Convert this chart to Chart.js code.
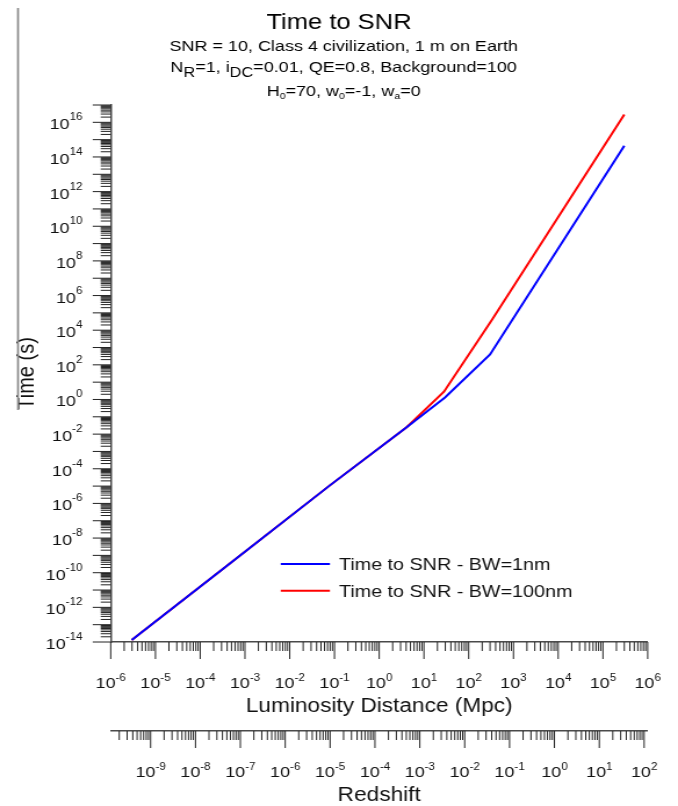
<!DOCTYPE html>
<html>
<head>
<meta charset="utf-8">
<title>Time to SNR</title>
<script src="https://cdn.jsdelivr.net/npm/chart.js@4.4.1/dist/chart.umd.min.js"></script>
<style>
  html, body { margin: 0; padding: 0; background: #ffffff; overflow: hidden; }
  /* the plot is laid out 584px wide and shown widened to the 678px page */
  #frame { position: absolute; left: 0; top: 0; width: 584px; height: 806px;
           transform-origin: 0 0; transform: scaleX(1.16096); }
</style>
</head>
<body>
<div id="frame"><canvas id="chart"></canvas></div>
<script>
// Luminosity distance (Mpc) and time to reach SNR = 10 (s), 1 nm bandwidth
const distance1nm = [2.95e-6, 4.6e-4, 0.079, 4.1, 29.5, 300, 3.0e5];
const time1nm     = [1.3e-14, 3.4e-10, 1.1e-5, 0.025, 1.3, 400, 4.5e14];

// Same quantities for the 100 nm bandwidth
const distance100nm = [2.95e-6, 4.6e-4, 0.079, 4.1, 28, 340, 3.0e5];
const time100nm     = [1.3e-14, 3.4e-10, 1.1e-5, 0.025, 2.8, 4.4e4, 2.8e16];

const seriesLabels = ['Time to SNR - BW=1nm', 'Time to SNR - BW=100nm'];
const seriesColors = ['#0000ff', '#ff0000'];

// Axis ranges
const distanceRange = [1e-6, 1e6];
const timeRange = [1e-14, 1e17];
const redshiftRange = [1.29e-10, 120];

// Powers of ten that carry a label
const distanceExponents = [-6, -5, -4, -3, -2, -1, 0, 1, 2, 3, 4, 5, 6];
const timeExponents = [-14, -12, -10, -8, -6, -4, -2, 0, 2, 4, 6, 8, 10, 12, 14, 16];
const redshiftExponents = [-9, -8, -7, -6, -5, -4, -3, -2, -1, 0, 1, 2];

const FAMILY = '"Liberation Sans", Arial, Helvetica, sans-serif';
const INK = '#111111';
const AXIS = '#4a4a4a';
const TICK = '#222222';

Chart.defaults.font.family = FAMILY;
Chart.defaults.color = INK;

function px(size) { return size + 'px ' + FAMILY; }

function points(xs, ys) { return xs.map((x, i) => ({ x: x, y: ys[i] })); }

// "10" followed by a raised exponent
function drawPower(ctx, exp, x, baseline, align, rise) {
  const base = '10';
  const sup = String(exp);
  ctx.font = px(15.5);
  const wb = ctx.measureText(base).width;
  ctx.font = px(10);
  const ws = ctx.measureText(sup).width;
  const total = wb + ws;
  const left = align === 'right' ? x - total : x - total / 2;
  ctx.textAlign = 'left';
  ctx.textBaseline = 'alphabetic';
  ctx.fillStyle = INK;
  ctx.font = px(15.5);
  ctx.fillText(base, left, baseline);
  ctx.font = px(10);
  ctx.fillText(sup, left + wb, baseline - rise);
}

// every 1..9 x 10^k value inside the scale range
function eachLogTick(scale, cb) {
  const lo = Math.floor(Math.log10(scale.min));
  const hi = Math.ceil(Math.log10(scale.max));
  for (let k = lo; k <= hi; k++) {
    for (let m = 1; m <= 9; m++) {
      const v = m * Math.pow(10, k);
      if (v < scale.min * (1 - 1e-9) || v > scale.max * (1 + 1e-9)) continue;
      cb(scale.getPixelForValue(v), m === 1);
    }
  }
}

// text line built from runs of [text, size, drop]
function drawRuns(ctx, runs, cx, baseline) {
  let total = 0;
  runs.forEach(r => { ctx.font = px(r[1]); total += ctx.measureText(r[0]).width; });
  let x = cx - total / 2;
  ctx.textAlign = 'left';
  ctx.textBaseline = 'alphabetic';
  runs.forEach(r => {
    ctx.font = px(r[1]);
    ctx.fillText(r[0], x, baseline + r[2]);
    x += ctx.measureText(r[0]).width;
  });
}

const axisDecor = {
  id: 'axisDecor',
  afterDraw(chart) {
    const ctx = chart.ctx;
    const sx = chart.scales.x, sz = chart.scales.x2, sy = chart.scales.y;
    ctx.save();

    // tick marks, pointing away from the plot
    ctx.strokeStyle = TICK;
    ctx.lineWidth = 1;
    ctx.beginPath();
    eachLogTick(sx, (p, major) => {
      ctx.moveTo(p, sx.top); ctx.lineTo(p, sx.top + (major ? 17 : 9));
    });
    eachLogTick(sz, (p, major) => {
      ctx.moveTo(p, sz.top); ctx.lineTo(p, sz.top + (major ? 17 : 9));
    });
    eachLogTick(sy, (p, major) => {
      ctx.moveTo(sy.right, p); ctx.lineTo(sy.right - (major ? 15.5 : 8.6), p);
    });
    ctx.stroke();

    // tick labels
    distanceExponents.forEach(e => drawPower(ctx, e, sx.getPixelForValue(Math.pow(10, e)), 688, 'center', 7));
    redshiftExponents.forEach(e => drawPower(ctx, e, sz.getPixelForValue(Math.pow(10, e)), 777, 'center', 7));
    timeExponents.forEach(e => drawPower(ctx, e, 71, sy.getPixelForValue(Math.pow(10, e)) + 7, 'right', 9));

    // legend
    const legendY = [564, 590.7];
    chart.data.datasets.forEach((ds, i) => {
      ctx.strokeStyle = ds.borderColor;
      ctx.lineWidth = 2;
      ctx.beginPath();
      ctx.moveTo(241.8, legendY[i]);
      ctx.lineTo(284.2, legendY[i]);
      ctx.stroke();
      ctx.fillStyle = INK;
      ctx.font = px(17);
      ctx.textAlign = 'left';
      ctx.textBaseline = 'alphabetic';
      ctx.fillText(ds.label, 292, legendY[i] + 6.2);
    });

    // heading
    ctx.fillStyle = '#000000';
    drawRuns(ctx, [['Time to SNR', 22, 0]], 292, 29);
    drawRuns(ctx, [['SNR = 10, Class 4 civilization, 1 m on Earth', 15.5, 0]], 296, 51);
    drawRuns(ctx, [['N', 15.5, 0], ['R', 14, 5], ['=1, i', 15.5, 0], ['DC', 14, 5],
                   ['=0.01, QE=0.8, Background=100', 15.5, 0]], 296, 72);
    drawRuns(ctx, [['H', 15.5, 0], ['0', 9, 3], ['=70, w', 15.5, 0], ['0', 9, 3],
                   ['=-1, w', 15.5, 0], ['a', 9, 3], ['=0', 15.5, 0]], 296, 96);

    // margin rule at the left edge
    ctx.strokeStyle = '#8a8a8a';
    ctx.lineWidth = 1.7;
    ctx.beginPath();
    ctx.moveTo(15.5, 8);
    ctx.lineTo(15.5, 410);
    ctx.stroke();

    ctx.restore();
  }
};

const quietAxis = {
  grid: { display: false, drawTicks: false },
  ticks: { display: false },
  border: { display: true, color: AXIS, width: 1.5 }
};

new Chart(document.getElementById('chart'), {
  type: 'line',
  data: {
    datasets: [
      { label: seriesLabels[0], data: points(distance1nm, time1nm),
        borderColor: seriesColors[0], backgroundColor: seriesColors[0],
        borderWidth: 2, pointRadius: 0, tension: 0, fill: false, xAxisID: 'x', yAxisID: 'y' },
      { label: seriesLabels[1], data: points(distance100nm, time100nm),
        borderColor: seriesColors[1], backgroundColor: seriesColors[1],
        borderWidth: 2, pointRadius: 0, tension: 0, fill: false, xAxisID: 'x', yAxisID: 'y' }
    ]
  },
  options: {
    responsive: true,
    maintainAspectRatio: false,
    animation: false,
    events: [],
    layout: { padding: { left: 0, right: 26.1, top: 105, bottom: 0 } },
    plugins: { legend: { display: false }, tooltip: { enabled: false }, title: { display: false } },
    scales: {
      x: Object.assign({}, quietAxis, {
        type: 'logarithmic', position: 'bottom', weight: 0,
        min: distanceRange[0], max: distanceRange[1],
        title: { display: true, text: 'Luminosity Distance (Mpc)', color: INK,
                 font: { family: FAMILY, size: 19.5, lineHeight: 1.2 }, padding: { top: 0, bottom: 12.3 } },
        afterFit: s => { s.height = 89; }
      }),
      x2: Object.assign({}, quietAxis, {
        type: 'logarithmic', position: 'bottom', weight: 1,
        min: redshiftRange[0], max: redshiftRange[1],
        title: { display: true, text: 'Redshift', color: INK,
                 font: { family: FAMILY, size: 19.5, lineHeight: 1.0 }, padding: { top: 0, bottom: 0.5 } },
        afterFit: s => { s.height = 75; }
      }),
      y: Object.assign({}, quietAxis, {
        type: 'logarithmic', position: 'left',
        min: timeRange[0], max: timeRange[1],
        title: { display: true, text: 'Time (s)', color: INK,
                 font: { family: FAMILY, size: 20, lineHeight: 1.2 }, padding: { top: 11.7, bottom: 0 } },
        afterFit: s => { s.width = 95.35; }
      })
    }
  },
  plugins: [axisDecor]
});
</script>
</body>
</html>
